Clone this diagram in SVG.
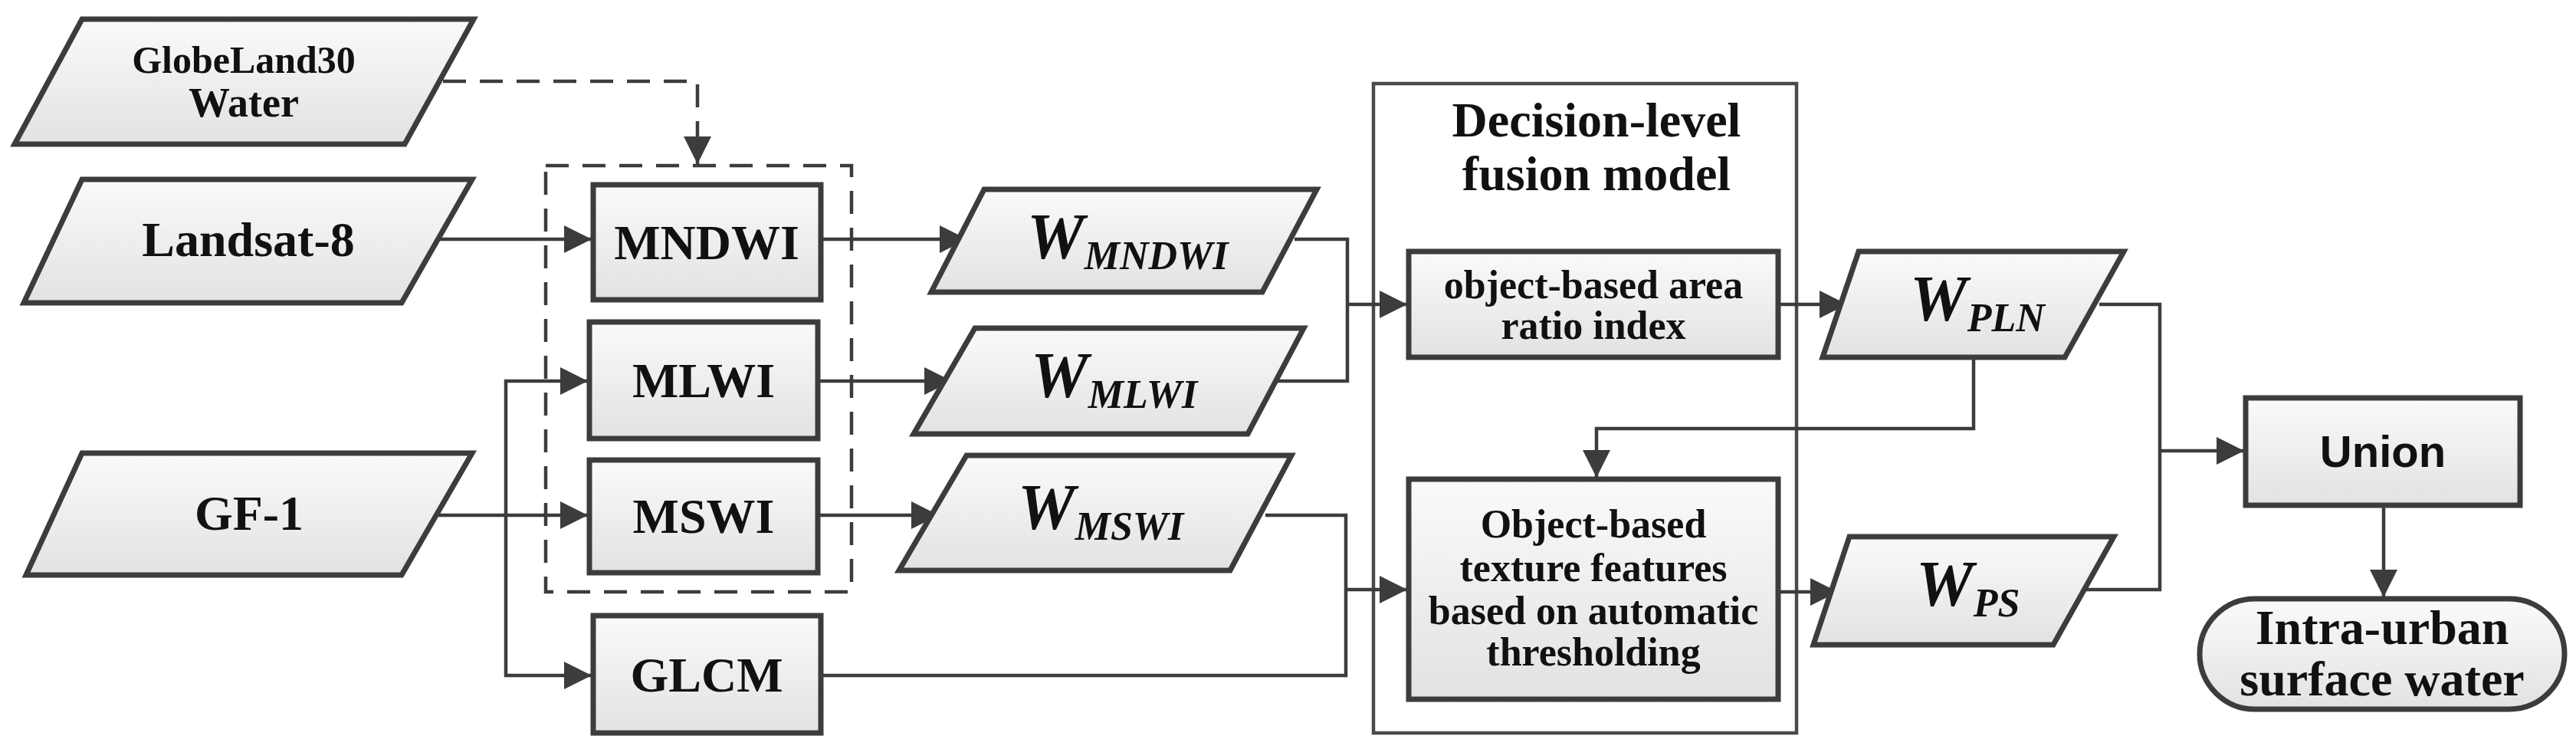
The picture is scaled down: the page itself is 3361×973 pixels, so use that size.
<svg xmlns="http://www.w3.org/2000/svg" width="3361" height="973" viewBox="0 0 3361 973">
<style>
.n{fill:url(#g);stroke:#3c3c3c;stroke-width:7;stroke-linejoin:miter}
.t{font-family:"Liberation Serif",serif;font-weight:bold;fill:#111;text-anchor:middle}
.w{font-family:"Liberation Serif",serif;font-weight:bold;font-style:italic;fill:#111}
.c{fill:none;stroke:#3c3c3c;stroke-width:4.5}
</style>
<defs>
<linearGradient id="g" x1="0" y1="0" x2="0" y2="1"><stop offset="0" stop-color="#fafafa"/><stop offset="1" stop-color="#e2e2e2"/></linearGradient>
<marker id="a" viewBox="0 0 10 10" refX="10" refY="5" markerWidth="9" markerHeight="9" markerUnits="userSpaceOnUse" orient="auto" style="overflow:visible"><path d="M0,0 L10,5 L0,10 z" fill="#3c3c3c" transform="scale(1)"/></marker>
<marker id="b" viewBox="0 0 10 10" refX="10" refY="5" markerWidth="40" markerHeight="36" markerUnits="userSpaceOnUse" orient="auto"><path d="M0,0 L10,5 L0,10 z" fill="#3c3c3c"/></marker>
</defs>
<rect width="3361" height="973" fill="#fff"/>
<g id="fusion-box"><rect x="1792" y="109" width="552" height="847" fill="none" stroke="#4a4a4a" stroke-width="4.5"/>
<text class="t" x="2083" y="178" font-size="64">Decision-level</text><text class="t" x="2083" y="248" font-size="64">fusion model</text></g>
<g id="dashed-group"><rect x="712" y="216" width="399" height="556" fill="none" stroke="#3c3c3c" stroke-width="4.5" stroke-dasharray="30,18"/></g>
<g id="connectors">
<path class="c" d="M578,106 H910 V214" stroke-dasharray="30,18" marker-end="url(#b)"/>
<path class="c" d="M562,312 H772" marker-end="url(#b)"/>
<path class="c" d="M568,672 H767" marker-end="url(#b)"/>
<path class="c" d="M660,672 V497 H767" marker-end="url(#b)"/>
<path class="c" d="M660,672 V881 H772" marker-end="url(#b)"/>
<path class="c" d="M1071,312 H1262" marker-end="url(#b)"/>
<path class="c" d="M1067,497 H1242" marker-end="url(#b)"/>
<path class="c" d="M1067,672 H1225" marker-end="url(#b)"/>
<path class="c" d="M1689,312 H1758 V497 H1665"/>
<path class="c" d="M1758,397 H1836" marker-end="url(#b)"/>
<path class="c" d="M1651,672 H1756 V881 H1071"/>
<path class="c" d="M1756,769 H1836" marker-end="url(#b)"/>
<path class="c" d="M2320,397 H2410" marker-end="url(#b)"/>
<path class="c" d="M2320,772 H2398" marker-end="url(#b)"/>
<path class="c" d="M2575,466 V559 H2083 V623" marker-end="url(#b)"/>
<path class="c" d="M2739,397 H2818 V769 H2720"/>
<path class="c" d="M2818,588 H2928" marker-end="url(#b)"/>
<path class="c" d="M3110,659 V779" marker-end="url(#b)"/>
</g>
<g id="globeland"><polygon class="n" points="107,25 618,25 528,188 19,188"/><text class="t" x="318" y="95" font-size="50">GlobeLand30</text><text class="t" x="318" y="152" font-size="54">Water</text></g>
<g id="landsat"><polygon class="n" points="107,234 616,234 524,395 31,395"/><text class="t" x="324" y="334" font-size="64">Landsat-8</text></g>
<g id="gf1"><polygon class="n" points="107,591 616,591 524,750 34,750"/><text class="t" x="325" y="691" font-size="64">GF-1</text></g>
<g id="mndwi"><rect class="n" x="774" y="241" width="297" height="150"/><text class="t" x="922" y="338" font-size="64">MNDWI</text></g>
<g id="mlwi"><rect class="n" x="769" y="420" width="298" height="152"/><text class="t" x="918" y="518" font-size="64">MLWI</text></g>
<g id="mswi"><rect class="n" x="769" y="600" width="298" height="147"/><text class="t" x="918" y="695" font-size="64">MSWI</text></g>
<g id="glcm"><rect class="n" x="774" y="803" width="297" height="153"/><text class="t" x="922" y="902" font-size="64">GLCM</text></g>
<g id="w-mndwi"><polygon class="n" points="1284,247 1718,247 1647,381 1215,381"/><text class="w" x="1340" y="337" font-size="84">W<tspan font-size="52" dy="14">MNDWI</tspan></text></g>
<g id="w-mlwi"><polygon class="n" points="1272,428 1701,428 1628,566 1192,566"/><text class="w" x="1345" y="518" font-size="84">W<tspan font-size="52" dy="14">MLWI</tspan></text></g>
<g id="w-mswi"><polygon class="n" points="1261,594 1685,594 1605,744 1173,744"/><text class="w" x="1328" y="690" font-size="84">W<tspan font-size="52" dy="14">MSWI</tspan></text></g>
<g id="area-ratio"><rect class="n" x="1838" y="328" width="482" height="138"/><text class="t" x="2079" y="389" font-size="52">object-based area</text><text class="t" x="2079" y="442" font-size="52">ratio index</text></g>
<g id="texture"><rect class="n" x="1838" y="625" width="482" height="287"/><text class="t" x="2079" y="701" font-size="52">Object-based</text><text class="t" x="2079" y="758" font-size="52">texture features</text><text class="t" x="2079" y="814" font-size="52">based on automatic</text><text class="t" x="2079" y="868" font-size="52">thresholding</text></g>
<g id="w-pln"><polygon class="n" points="2425,328 2771,328 2694,466 2378,466"/><text class="w" x="2492" y="418" font-size="84">W<tspan font-size="52" dy="14">PLN</tspan></text></g>
<g id="w-ps"><polygon class="n" points="2413,700 2758,700 2679,841 2366,841"/><text class="w" x="2500" y="790" font-size="84">W<tspan font-size="52" dy="14">PS</tspan></text></g>
<g id="union"><rect class="n" x="2930" y="519" width="358" height="140"/><text x="3109" y="609" font-size="58" font-family="'Liberation Sans',sans-serif" font-weight="bold" fill="#111" text-anchor="middle">Union</text></g>
<g id="output"><rect class="n" x="2870" y="781" width="476" height="144" rx="72"/><text class="t" x="3108" y="840" font-size="64">Intra-urban</text><text class="t" x="3108" y="907" font-size="64">surface water</text></g>
</svg>
